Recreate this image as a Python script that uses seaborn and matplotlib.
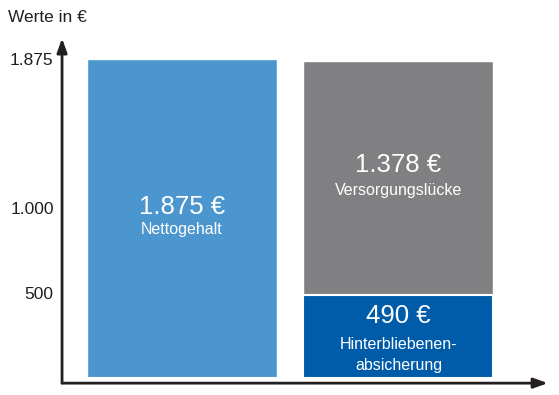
import numpy as np
import pandas as pd
import seaborn as sns
import matplotlib.pyplot as plt

# Daten
kategorien = ["netto", "luecke"]
nettogehalt = 1875
versorgungsluecke = 1378
hinterbliebene = 490
y_ticks = [500, 1000, 1875]
y_tick_labels = ["500", "1.000", "1.875"]

blau = "#4b96ce"
grau = "#808083"
dunkelblau = "#005ca9"

sns.set_theme(style="white")
plt.rcParams["font.family"] = ["Liberation Sans", "DejaVu Sans"]

fig = plt.figure(figsize=(5.59, 3.95), dpi=100)
ax = fig.add_axes([0.111, 0.030, 0.869, 0.873])

# Gesamthoehe je Balken (rechts: gestapelt)
df_total = pd.DataFrame({"kat": kategorien,
                         "wert": [nettogehalt, hinterbliebene + versorgungsluecke]})
df_unten = pd.DataFrame({"kat": kategorien, "wert": [0, hinterbliebene]})

sns.barplot(data=df_total, x="kat", y="wert", hue="kat", palette=[blau, grau],
            width=0.878, legend=False, ax=ax, saturation=1)
sns.barplot(data=df_unten, x="kat", y="wert", hue="kat", palette=[blau, dunkelblau],
            width=0.878, legend=False, ax=ax, saturation=1,
            edgecolor="white", linewidth=1.5)

ax.set_xlim(-0.554, 1.69)
ax.set_ylim(-29, 1999)
ax.set_xlabel("")
ax.set_ylabel("")
ax.set_xticks([])
ax.set_yticks(y_ticks)
ax.set_yticklabels(y_tick_labels, fontsize=12.5, color="#231f20")
ax.tick_params(axis="y", length=0, pad=6)
for s in ax.spines.values():
    s.set_visible(False)

# Achsenpfeile
pfeil = dict(arrowstyle="-|>,head_length=0.7,head_width=0.25", color="#231f20",
             lw=2, shrinkA=0, shrinkB=0)
ax.annotate("", xy=(0, 1), xytext=(0, 0), xycoords="axes fraction", arrowprops=pfeil)
ax.annotate("", xy=(1, 0), xytext=(0, 0), xycoords="axes fraction", arrowprops=pfeil)

fig.text(8 / 559, 1 - 18 / 395, "Werte in €", fontsize=12.5, color="#231f20",
         va="center", ha="left")

# Beschriftungen in den Balken
def beschriftung(x, y, betrag, zeilen, dy_betrag, dy_text):
    ax.annotate(betrag, xy=(x, y), xytext=(0, dy_betrag), textcoords="offset points",
                ha="center", va="center", color="white", fontsize=18.5)
    ax.annotate(zeilen, xy=(x, y), xytext=(0, dy_text), textcoords="offset points",
                ha="center", va="center", color="white", fontsize=11.5, linespacing=1.45)

beschriftung(0, nettogehalt / 2, "1.875 €", "Nettogehalt", 8.5, -7.6)
beschriftung(1, hinterbliebene + versorgungsluecke / 2, "1.378 €", "Versorgungslücke", 9.5, -9)
beschriftung(1, hinterbliebene / 2, "490 €", "Hinterbliebenen-\nabsicherung", 14.5, -13.3)

fig.savefig("out.png", dpi=100)
